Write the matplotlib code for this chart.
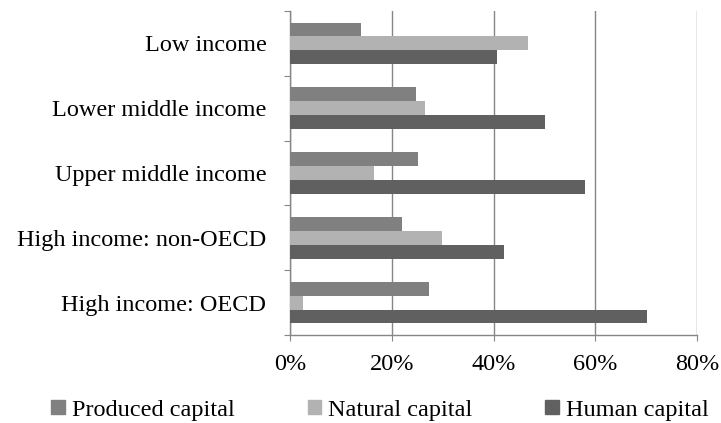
import matplotlib.pyplot as plt
import numpy as np
from matplotlib.patches import Patch
from matplotlib.ticker import FixedLocator, PercentFormatter

categories = [
    "Low income",
    "Lower middle income",
    "Upper middle income",
    "High income: non-OECD",
    "High income: OECD",
]
series_names = ["Produced capital", "Natural capital", "Human capital"]
produced = [14.0, 24.7, 25.1, 22.1, 27.3]
natural = [46.8, 26.6, 16.6, 29.9, 2.6]
human = [40.6, 50.2, 58.0, 42.1, 70.1]
colors = ["#808080", "#b2b2b2", "#606060"]

plt.rcParams["font.family"] = ["Liberation Serif", "DejaVu Serif"]
FS = 17.5
GRID = "#868686"

fig = plt.figure(figsize=(7.21, 4.23), dpi=100)
ax = fig.add_axes([290 / 721, 88 / 423, 407 / 721, 324 / 423])

y = np.arange(len(categories))
h = 0.215
for k, (vals, col) in enumerate(zip([produced, natural, human], colors)):
    ax.barh(y + (k - 1) * h, vals, height=h, color=col, zorder=3)

ax.set_xlim(0, 80)
ax.set_ylim(len(categories) - 0.5, -0.5)
ax.xaxis.set_major_locator(FixedLocator([0, 20, 40, 60, 80]))
ax.xaxis.set_major_formatter(PercentFormatter(decimals=0))
ax.grid(axis="x", color=GRID, linewidth=1.0, zorder=0)

# category boundary ticks on the left, labels at band centres
ax.yaxis.set_major_locator(FixedLocator(np.arange(-0.5, len(categories), 1.0)))
ax.yaxis.set_major_formatter(plt.NullFormatter())
ax.set_yticks(y, categories, minor=True)
ax.tick_params(axis="y", which="major", length=4, color=GRID, direction="out")
ax.tick_params(axis="y", which="minor", length=0, labelsize=FS, pad=17)
ax.tick_params(axis="x", length=4, color=GRID, labelsize=FS, pad=10)

for side in ["top", "right"]:
    ax.spines[side].set_visible(False)
for side in ["left", "bottom"]:
    ax.spines[side].set_color(GRID)
    ax.spines[side].set_linewidth(1.0)

handles = [Patch(color=c, label=n) for c, n in zip(colors, series_names)]
fig.legend(
    handles=handles,
    loc="center",
    bbox_to_anchor=(380 / 721, 1 - 410 / 423),
    ncol=3,
    frameon=False,
    fontsize=FS,
    handlelength=0.55,
    handleheight=0.55,
    handletextpad=0.3,
    columnspacing=3.0,
)

fig.savefig("out.png", dpi=100)
